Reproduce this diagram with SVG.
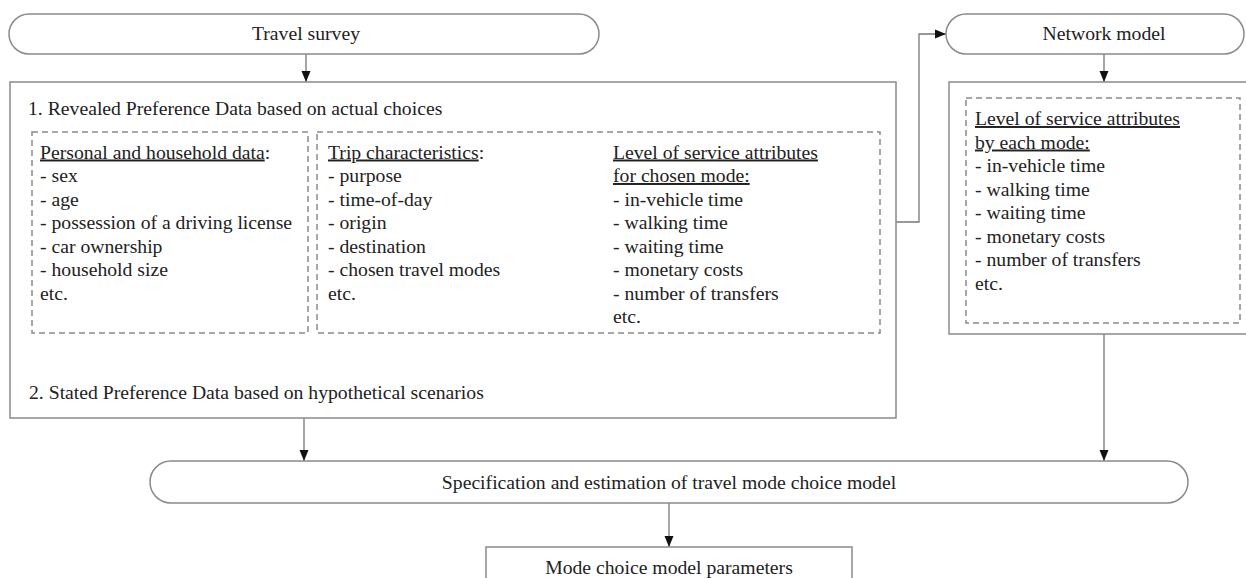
<svg xmlns="http://www.w3.org/2000/svg" width="1246" height="578" viewBox="0 0 1246 578">
<style>
.box{fill:#fff;stroke:#8a8a8a;stroke-width:1.5}
.dash{fill:none;stroke:#8a8a8a;stroke-width:1.5;stroke-dasharray:6 4}
.conn{fill:none;stroke:#777;stroke-width:1.3}
text{font-family:"Liberation Serif","Times New Roman",serif;font-size:19.7px;fill:#222}
.c{text-anchor:middle}
.u{text-decoration:underline}
</style>
<defs>
<marker id="ah" markerUnits="userSpaceOnUse" markerWidth="12" markerHeight="12" viewBox="0 0 12 12" refX="11" refY="6" orient="auto">
<path d="M0,1.5 L11,6 L0,10.5 Z" fill="#111"/>
</marker>
</defs>
<rect width="1246" height="578" fill="#fff"/>

<g id="connectors">
<path class="conn" d="M306,54 V82" marker-end="url(#ah)"/>
<path class="conn" d="M1104,54 V82" marker-end="url(#ah)"/>
<path class="conn" d="M880,222 H919 V34 H946" marker-end="url(#ah)"/>
<path class="conn" d="M304,418 V461" marker-end="url(#ah)"/>
<path class="conn" d="M1104,334 V461" marker-end="url(#ah)"/>
<path class="conn" d="M669,503 V547" marker-end="url(#ah)"/>
</g>

<g id="travel-survey">
<rect class="box" x="9" y="14" width="590" height="40" rx="20" ry="20"/>
<text class="c" x="306" y="40">Travel survey</text>
</g>

<g id="network-model">
<rect class="box" x="946" y="14" width="298" height="40" rx="20" ry="20"/>
<text class="c" x="1104" y="40">Network model</text>
</g>

<g id="survey-data">
<rect class="box" x="10" y="82" width="886" height="336"/>
<text x="28" y="114.5">1. Revealed Preference Data based on actual choices</text>
<text x="29" y="398.5">2. Stated Preference Data based on hypothetical scenarios</text>
</g>

<g id="personal-data">
<rect class="dash" x="32" y="132" width="276" height="201"/>
<text x="40" y="158.5"><tspan class="u">Personal and household data</tspan>:</text>
<text x="40" y="182">- sex</text>
<text x="40" y="205.5">- age</text>
<text x="40" y="229">- possession of a driving license</text>
<text x="40" y="252.5">- car ownership</text>
<text x="40" y="276">- household size</text>
<text x="40" y="299.5">etc.</text>
</g>

<g id="trip-data">
<rect class="dash" x="317" y="132" width="563" height="201"/>
<text x="328" y="158.5"><tspan class="u">Trip characteristics</tspan>:</text>
<text x="328" y="182">- purpose</text>
<text x="328" y="205.5">- time-of-day</text>
<text x="328" y="229">- origin</text>
<text x="328" y="252.5">- destination</text>
<text x="328" y="276">- chosen travel modes</text>
<text x="328" y="299.5">etc.</text>
<text x="613" y="158.5" class="u">Level of service attributes</text>
<text x="613" y="182" class="u">for chosen mode:</text>
<text x="613" y="205.5">- in-vehicle time</text>
<text x="613" y="229">- walking time</text>
<text x="613" y="252.5">- waiting time</text>
<text x="613" y="276">- monetary costs</text>
<text x="613" y="299.5">- number of transfers</text>
<text x="613" y="323">etc.</text>
</g>

<g id="network-attributes">
<rect class="box" x="949" y="82" width="302" height="252"/>
<rect class="dash" x="966" y="98" width="274" height="225"/>
<text x="975" y="125" class="u">Level of service attributes</text>
<text x="975" y="148.5" class="u">by each mode:</text>
<text x="975" y="172">- in-vehicle time</text>
<text x="975" y="195.5">- walking time</text>
<text x="975" y="219">- waiting time</text>
<text x="975" y="242.5">- monetary costs</text>
<text x="975" y="266">- number of transfers</text>
<text x="975" y="289.5">etc.</text>
</g>

<g id="estimation">
<rect class="box" x="150" y="461" width="1038" height="42" rx="21" ry="21"/>
<text class="c" x="669" y="489">Specification and estimation of travel mode choice model</text>
</g>

<g id="parameters">
<rect class="box" x="486" y="547" width="366" height="50"/>
<text class="c" x="669" y="574">Mode choice model parameters</text>
</g>
</svg>
